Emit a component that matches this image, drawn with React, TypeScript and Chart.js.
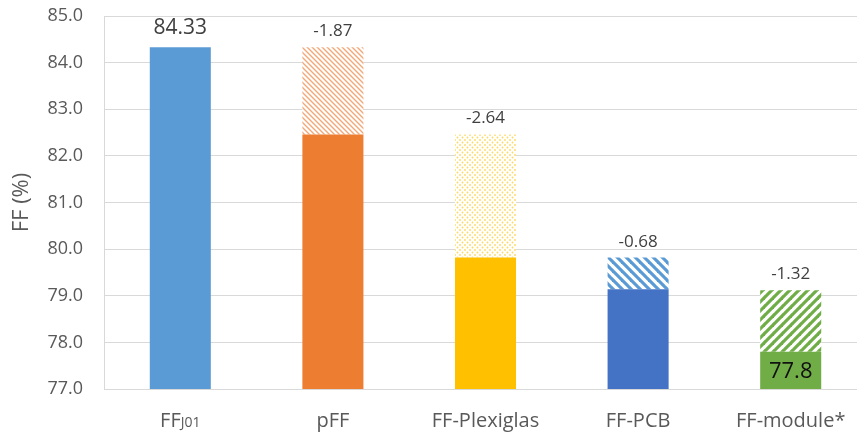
import React, { useEffect, useRef } from "react";
import { Chart, registerables } from "chart.js";

Chart.register(...registerables);

// Category names; the first one carries a small "J01" suffix
const categories = ["FF", "pFF", "FF-Plexiglas", "FF-PCB", "FF-module*"];
const categorySuffixes = ["J01", "", "", "", ""];

// FF level remaining after each step (%)
const levels = [84.33, 82.46, 79.82, 79.14, 77.8];
// FF lost at each step (%)
const changes: (number | null)[] = [null, -1.87, -2.64, -0.68, -1.32];

// Value axis range
const yMin = 77;
const yMax = 85;
const yStep = 1;

const solidColors = ["#5B9BD5", "#ED7D31", "#FFC000", "#4472C4", "#70AD47"];

const FONT = "'Open Sans', 'DejaVu Sans', sans-serif";

function stripePattern(color: string, size: number, width: number, dir: "down" | "up") {
  const c = document.createElement("canvas");
  c.width = size;
  c.height = size;
  const g = c.getContext("2d")!;
  g.fillStyle = "#FFFFFF";
  g.fillRect(0, 0, size, size);
  g.strokeStyle = color;
  g.lineWidth = width;
  g.lineCap = "square";
  for (let k = -1; k <= 1; k++) {
    g.beginPath();
    if (dir === "down") {
      g.moveTo(k * size, 0);
      g.lineTo(k * size + size, size);
    } else {
      g.moveTo(k * size, size);
      g.lineTo(k * size + size, 0);
    }
    g.stroke();
  }
  return g.createPattern(c, "repeat")!;
}

function dotPattern(color: string, size: number, r: number) {
  const c = document.createElement("canvas");
  c.width = size;
  c.height = size;
  const g = c.getContext("2d")!;
  g.fillStyle = "#FFFFFF";
  g.fillRect(0, 0, size, size);
  g.fillStyle = color;
  const pts = [
    [0, 0],
    [size, 0],
    [0, size],
    [size, size],
    [size / 2, size / 2],
  ];
  for (const [x, y] of pts) {
    g.beginPath();
    g.arc(x, y, r, 0, Math.PI * 2);
    g.fill();
  }
  return g.createPattern(c, "repeat")!;
}

const labelPlugin = {
  id: "waterfallLabels",
  afterDatasetsDraw(chart: any) {
    const ctx = chart.ctx as CanvasRenderingContext2D;
    const yScale = chart.scales.y;
    const solidMeta = chart.getDatasetMeta(0);
    const lossMeta = chart.getDatasetMeta(1);
    const last = levels.length - 1;
    ctx.save();
    ctx.textAlign = "center";
    ctx.textBaseline = "alphabetic";
    levels.forEach((v, i) => {
      const bar = solidMeta.data[i];
      if (i === 0) {
        ctx.font = `21px ${FONT}`;
        ctx.fillStyle = "#404040";
        ctx.fillText(v.toFixed(2), bar.x, yScale.getPixelForValue(v) - 13);
      }
      if (i === last) {
        ctx.font = `22px ${FONT}`;
        ctx.fillStyle = "#111111";
        ctx.textBaseline = "middle";
        const top = yScale.getPixelForValue(v);
        const base = yScale.getPixelForValue(yMin);
        ctx.fillText(String(v), bar.x, (top + base) / 2 + 1);
        ctx.textBaseline = "alphabetic";
      }
      const ch = changes[i];
      if (ch !== null) {
        const lb = lossMeta.data[i];
        ctx.font = `17px ${FONT}`;
        ctx.fillStyle = "#404040";
        ctx.fillText(ch.toFixed(2), lb.x, yScale.getPixelForValue(v - ch) - 11);
      }
    });
    ctx.restore();
  },
  afterDraw(chart: any) {
    const ctx = chart.ctx as CanvasRenderingContext2D;
    const xScale = chart.scales.x;
    const baseline = chart.chartArea.bottom + 38;
    ctx.save();
    ctx.fillStyle = "#595959";
    ctx.textAlign = "left";
    ctx.textBaseline = "alphabetic";
    categories.forEach((name, i) => {
      const cx = xScale.getPixelForValue(i);
      ctx.font = `20px ${FONT}`;
      const wMain = ctx.measureText(name).width;
      ctx.font = `14px ${FONT}`;
      const sub = categorySuffixes[i];
      const wSub = sub ? ctx.measureText(sub).width : 0;
      const start = cx - (wMain + wSub) / 2;
      ctx.font = `20px ${FONT}`;
      ctx.fillText(name, start, baseline);
      if (sub) {
        ctx.font = `14px ${FONT}`;
        ctx.fillText(sub, start + wMain, baseline);
      }
    });
    ctx.restore();
  },
};

export default function App() {
  const canvasRef = useRef<HTMLCanvasElement | null>(null);

  useEffect(() => {
    document.body.style.margin = "0";
    let chart: Chart | null = null;
    let cancelled = false;

    const build = () => {
      if (cancelled || !canvasRef.current) return;
      const lossFills = [
        "rgba(0,0,0,0)",
        stripePattern("#F2A97A", 5, 1.4, "down"),
        dotPattern("#FFD85C", 5, 0.9),
        stripePattern("#5B9BD5", 9, 3.2, "down"),
        stripePattern("#70AD47", 9, 3.2, "up"),
      ];
      chart = new Chart(canvasRef.current, {
        type: "bar",
        data: {
          labels: categories.map((c, i) => c + categorySuffixes[i]),
          datasets: [
            {
              label: "FF",
              data: levels,
              backgroundColor: solidColors,
              grouped: false,
              barPercentage: 0.4,
              categoryPercentage: 1,
              order: 1,
            } as any,
            {
              label: "ΔFF",
              data: levels.map((v, i) => {
                const ch = changes[i];
                return ch === null ? null : [v, v - ch];
              }),
              backgroundColor: lossFills,
              grouped: false,
              barPercentage: 0.4,
              categoryPercentage: 1,
              order: 2,
            } as any,
          ],
        },
        options: {
          responsive: false,
          animation: false,
          devicePixelRatio: 1,
          layout: { padding: { top: 16, left: 0, right: 0, bottom: 0 } },
          plugins: {
            legend: { display: false },
            tooltip: { enabled: false },
          },
          scales: {
            x: {
              grid: { display: false },
              border: { display: true, color: "#D9D9D9" },
              ticks: { display: false },
              afterFit: (s: any) => {
                s.height = 45;
              },
            },
            y: {
              min: yMin,
              max: yMax,
              ticks: {
                stepSize: yStep,
                padding: 21,
                color: "#595959",
                font: { family: FONT, size: 18 },
                callback: (v: any) => Number(v).toFixed(1),
              },
              grid: { color: "#D9D9D9", drawTicks: false },
              border: { display: true, color: "#D9D9D9" },
              title: {
                display: true,
                text: "FF (%)",
                color: "#595959",
                font: { family: FONT, size: 22 },
                padding: { top: 9, bottom: 0 },
              },
              afterFit: (s: any) => {
                s.width = 104;
                s.paddingTop = 11;
                s.paddingBottom = 11;
              },
            },
          },
        },
        plugins: [labelPlugin],
      });
    };

    const fontsReady = (document as any).fonts
      ? Promise.all([
          (document as any).fonts.load(`20px 'Open Sans'`),
          (document as any).fonts.load(`14px 'Open Sans'`),
        ]).catch(() => null)
      : Promise.resolve(null);
    fontsReady.then(build);

    return () => {
      cancelled = true;
      if (chart) chart.destroy();
    };
  }, []);

  return (
    <div style={{ width: 857, height: 434, overflow: "hidden", background: "#FFFFFF" }}>
      <canvas ref={canvasRef} width={867} height={434} style={{ display: "block" }} />
    </div>
  );
}
